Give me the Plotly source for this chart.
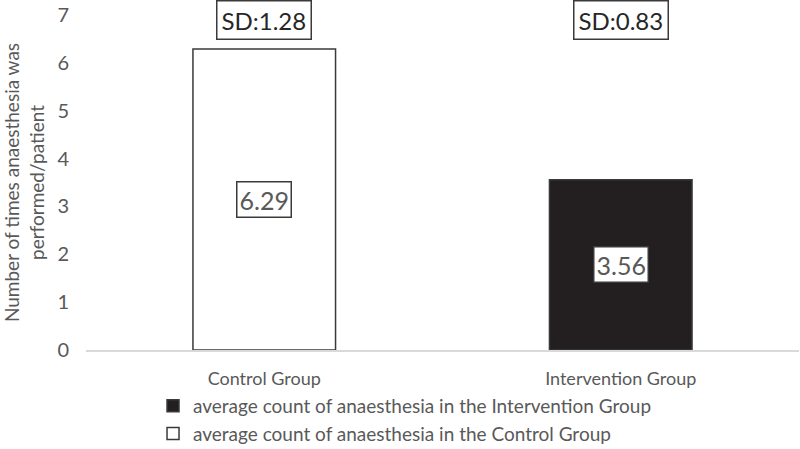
import plotly.graph_objects as go

categories = ["Control Group", "Intervention Group"]
means = [6.29, 3.56]
sds = [1.28, 0.83]
series_names = [
    "average count of anaesthesia in the Control Group",
    "average count of anaesthesia in the Intervention Group",
]
fills = ["#ffffff", "#231f20"]
y_ticks = [0, 1, 2, 3, 4, 5, 6, 7]

FONT = "Lato"
GRAY = "#595959"

fig = go.Figure()
# legend lists the Intervention series first, so add traces in reverse order
for cat, m, name, fc in reversed(list(zip(categories, means, series_names, fills))):
    fig.add_trace(go.Bar(
        x=[cat], y=[m], name=name,
        marker=dict(color=fc, line=dict(color="#3a3a3a", width=1.5)),
        width=0.4, hoverinfo="skip",
    ))

for cat, m, sd in zip(categories, means, sds):
    fig.add_annotation(
        x=cat, y=m / 2, xref="x", yref="y", text=f"{m:.2f}",
        showarrow=False, font=dict(family=FONT, size=25, color=GRAY),
        bgcolor="#ffffff", bordercolor="#3a3a3a", borderwidth=1.5, borderpad=2,
    )
    fig.add_annotation(
        x=cat, y=0.986, xref="x", yref="paper", text=f"SD:{sd}",
        showarrow=False, yanchor="middle",
        font=dict(family=FONT, size=24, color="#262626"),
        bgcolor="#ffffff", bordercolor="#3a3a3a", borderwidth=1.5, borderpad=4,
    )

fig.update_layout(
    width=800, height=449,
    margin=dict(l=86, r=1, t=15, b=99, autoexpand=False),
    paper_bgcolor="#ffffff", plot_bgcolor="#ffffff",
    barmode="overlay", showlegend=True,
    font=dict(family=FONT, color=GRAY),
    legend=dict(
        orientation="v", traceorder="normal",
        x=0.094, y=-0.11,
        xanchor="left", yanchor="top",
        bgcolor="rgba(0,0,0,0)",
        font=dict(family=FONT, size=19, color=GRAY),
        itemwidth=30, tracegroupgap=2,
    ),
    xaxis=dict(
        categoryorder="array", categoryarray=categories,
        showline=True, linecolor="#d9d9d9", linewidth=2,
        showgrid=False, zeroline=False, automargin=False, tickangle=0,
        tickfont=dict(family=FONT, size=18, color=GRAY),
        ticklabelstandoff=11,
    ),
    yaxis=dict(
        range=[0, 7], tickvals=y_ticks, automargin=True,
        showgrid=False, zeroline=False, showline=False,
        tickfont=dict(family=FONT, size=20, color=GRAY),
        ticklabelstandoff=16, ticklabeloverflow="allow",
        title=dict(
            text="Number of times anaesthesia was<br>performed/patient",
            font=dict(family=FONT, size=19, color=GRAY), standoff=12,
        ),
    ),
)

fig.write_html(
    "out.html",
    config={"displayModeBar": False},
    post_script="document.body.style.margin='0';document.body.style.overflow='hidden';",
)
